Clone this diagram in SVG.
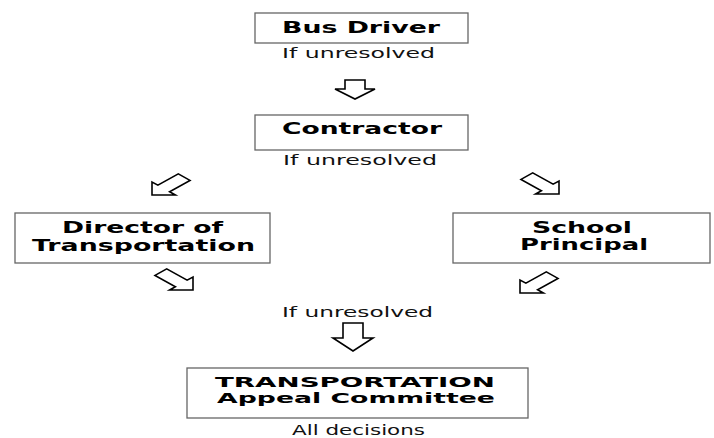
<svg xmlns="http://www.w3.org/2000/svg" width="714" height="438" viewBox="0 0 714 438">
<style>
.box{fill:#fff;stroke:#666;stroke-width:1.3}
.t{font-family:"DejaVu Sans","Liberation Sans",sans-serif;font-weight:bold;font-size:15px;fill:#000}
.tl{font-size:16px}
.tc{font-size:14px}
.s{font-family:"DejaVu Sans","Liberation Sans",sans-serif;font-size:13.5px;fill:#111}
.arr{fill:#fff;stroke:#000;stroke-width:1.6;stroke-linejoin:miter}
</style>
<rect width="714" height="438" fill="#fff"/>
<g id="connectors">
<polygon class="arr" points="345,80 365,80 365,89 375,89 355,99 335,89 345,89"/>
<polygon class="arr" points="152,195 175.4,195 169.6,191.7 190,180.4 178.3,173.9 157.9,185.2 152,182"/>
<polygon class="arr" points="559,194 535.6,194 541.4,190.7 521,179.4 532.7,172.9 553.1,184.2 559,181"/>
<polygon class="arr" points="193,290 169.6,290 175.4,286.7 155,275.4 166.7,268.9 187.1,280.2 193,277"/>
<polygon class="arr" points="520,293 543.4,293 537.6,289.7 558,278.4 546.3,271.9 525.9,283.2 520,280"/>
<polygon class="arr" points="343,323 363,323 363,338 373,338 353,351 333,338 343,338"/>
</g>
<g id="bus-driver">
<rect class="box" x="255" y="13" width="213" height="30"/>
<text class="t tl" x="282" y="33" textLength="158" lengthAdjust="spacingAndGlyphs">Bus Driver</text>
<text class="s" x="282" y="58" textLength="153" lengthAdjust="spacingAndGlyphs">If unresolved</text>
</g>
<g id="contractor">
<rect class="box" x="255" y="115" width="213" height="35"/>
<text class="t tl" x="282" y="134" textLength="160" lengthAdjust="spacingAndGlyphs">Contractor</text>
<text class="s" x="283" y="165" textLength="154" lengthAdjust="spacingAndGlyphs">If unresolved</text>
</g>
<g id="director">
<rect class="box" x="15" y="213" width="255" height="50"/>
<text class="t" x="62" y="233" textLength="161" lengthAdjust="spacingAndGlyphs">Director of</text>
<text class="t" x="32" y="251" textLength="223" lengthAdjust="spacingAndGlyphs">Transportation</text>
</g>
<g id="principal">
<rect class="box" x="453" y="213" width="257" height="50"/>
<text class="t" x="532" y="233" textLength="100" lengthAdjust="spacingAndGlyphs">School</text>
<text class="t" x="520" y="250" textLength="128" lengthAdjust="spacingAndGlyphs">Principal</text>
</g>
<g id="unresolved-label">
<text class="s" x="282" y="317" textLength="151" lengthAdjust="spacingAndGlyphs">If unresolved</text>
</g>
<g id="committee">
<rect class="box" x="187" y="368" width="341" height="50"/>
<text class="t tc" x="215" y="387" textLength="280" lengthAdjust="spacingAndGlyphs">TRANSPORTATION</text>
<text class="t tc" x="217" y="403" textLength="278" lengthAdjust="spacingAndGlyphs">Appeal Committee</text>
<text class="s" x="292" y="435" textLength="133" lengthAdjust="spacingAndGlyphs">All decisions</text>
</g>
</svg>
